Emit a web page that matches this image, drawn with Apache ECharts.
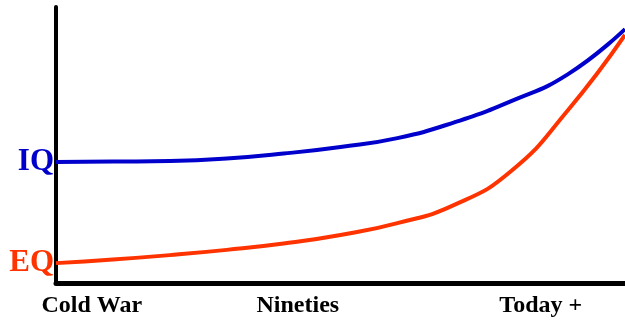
<!DOCTYPE html>
<html><head><meta charset="utf-8">
<script src="https://cdn.jsdelivr.net/npm/echarts@6/dist/echarts.min.js"></script>
<style>html,body{margin:0;padding:0;background:#fff}#c{width:625px;height:323px}</style>
</head><body><div id="c"></div>
<script>
var timeX = [0, 10, 20, 30, 40, 50, 60, 70, 80, 90, 100];
var iqValues = [43.8, 44.0, 44.2, 45.1, 46.9, 49.3, 52.5, 58.2, 65.9, 75.7, 92.0];
var eqValues = [7.2, 8.5, 10.1, 12.0, 14.3, 17.4, 21.7, 28.3, 40.6, 62.7, 89.9];
var xTickLabels = ['Cold War', 'Nineties', 'Today +'];
var xTickPos = [6.3, 42.5, 85.2];
var yTickLabels = ['IQ', 'EQ'];
var yTickPos = [43.8, 7.2];

function pairs(xs, ys){ return xs.map(function(x,i){ return [x, ys[i]]; }); }

var chart = echarts.init(document.getElementById('c'));
chart.setOption({
  animation: false,
  backgroundColor: '#fff',
  grid: { left: 56, right: 0, top: 7, bottom: 40 },
  xAxis: {
    type: 'value', min: 0, max: 100,
    splitLine: { show: false },
    axisLine: { show: true, lineStyle: { color: '#000', width: 5 } },
    axisTick: { show: false },
    axisLabel: {
      customValues: xTickPos,
      formatter: function(v){ var i = xTickPos.indexOf(v); return i >= 0 ? xTickLabels[i] : ''; },
      color: '#000', fontFamily: 'Liberation Serif', fontWeight: 'bold', fontSize: 24, margin: 11
    }
  },
  yAxis: {
    type: 'value', min: 0, max: 100,
    splitLine: { show: false },
    axisLine: { show: true, lineStyle: { color: '#000', width: 4 } },
    axisTick: { show: false },
    axisLabel: {
      customValues: yTickPos,
      margin: 2,
      formatter: function(v){ var i = yTickPos.indexOf(v); return i === 0 ? '{iq|' + yTickLabels[0] + '}' : (i === 1 ? '{eq|' + yTickLabels[1] + '}' : ''); },
      rich: {
        iq: { color: '#0000cc', fontFamily: 'Liberation Serif', fontWeight: 'bold', fontSize: 31 },
        eq: { color: '#ff3300', fontFamily: 'Liberation Serif', fontWeight: 'bold', fontSize: 31 }
      }
    }
  },
  series: [
    { name: 'IQ', type: 'line', data: pairs(timeX, iqValues), smooth: 0.5, symbol: 'none',
      lineStyle: { color: '#0000cc', width: 4 }, z: 3 },
    { name: 'EQ', type: 'line', data: pairs(timeX, eqValues), smooth: 0.5, symbol: 'none',
      lineStyle: { color: '#ff3300', width: 4 }, z: 2 }
  ]
});
</script></body></html>
